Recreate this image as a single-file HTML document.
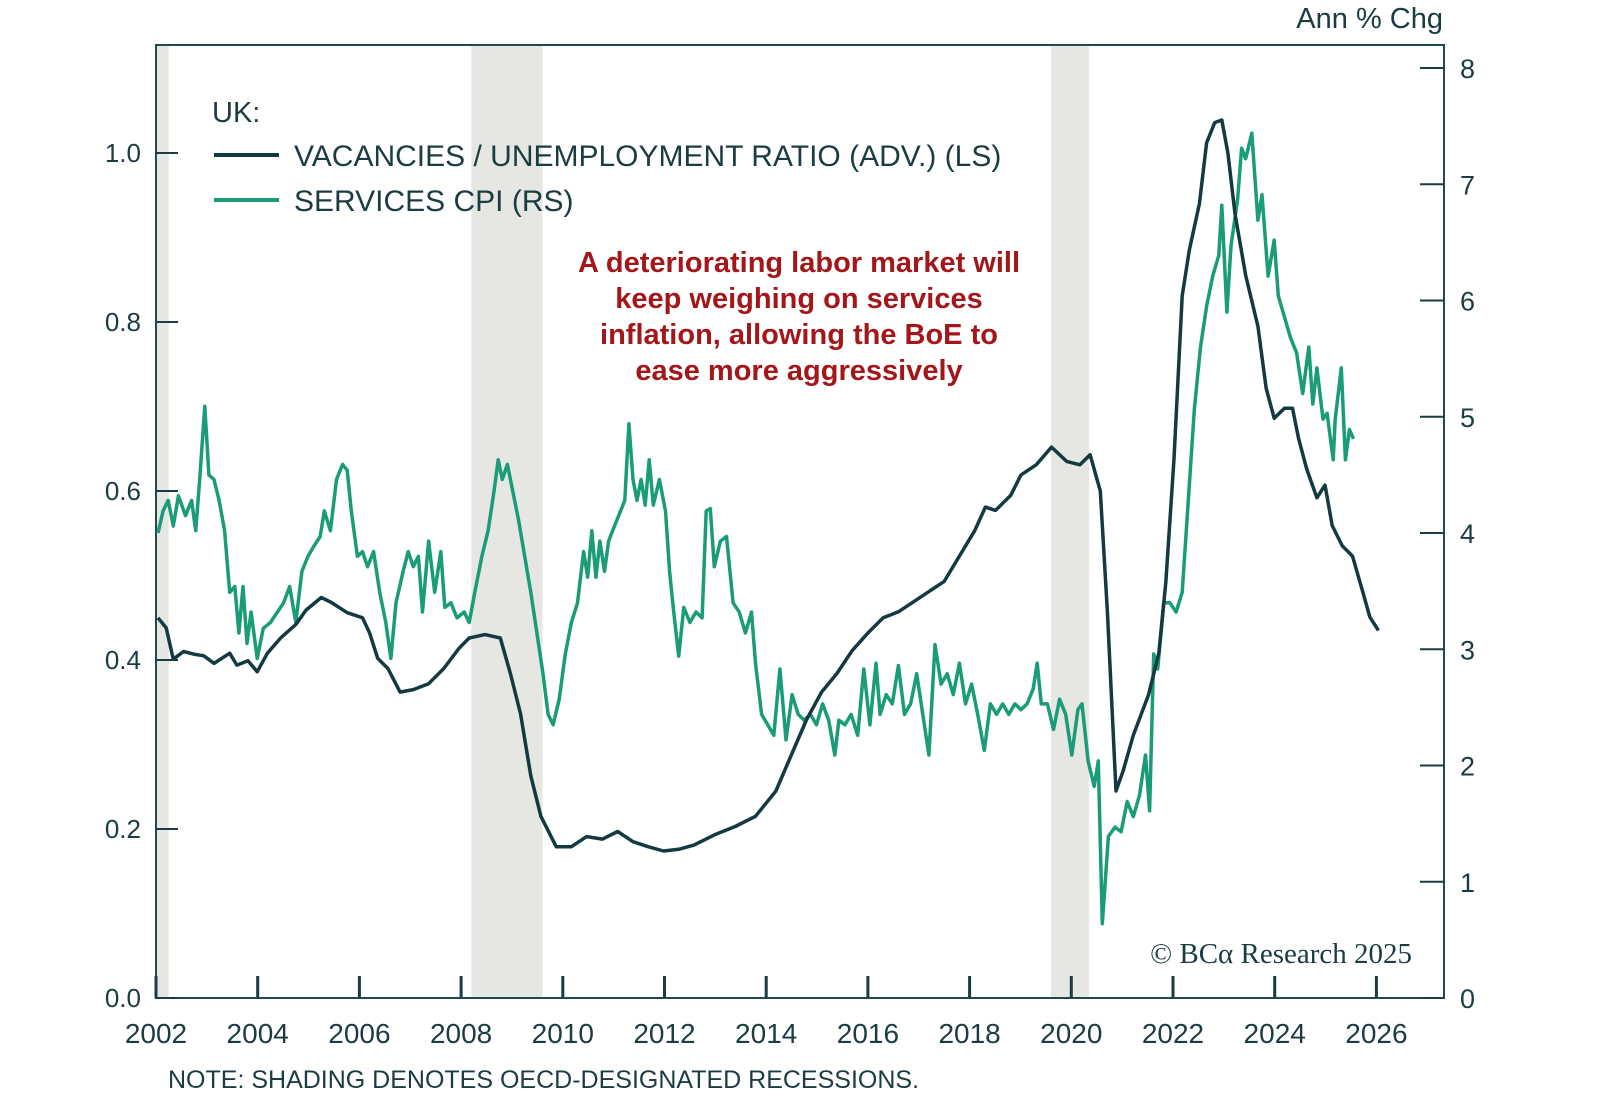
<!DOCTYPE html>
<html><head><meta charset="utf-8"><style>
html,body{margin:0;padding:0;background:#fff;}
svg{display:block;font-family:"Liberation Sans",sans-serif;}
</style></head><body>
<svg id="chart" width="1600" height="1107" viewBox="0 0 1600 1107">
<g id="shade"></g>
<rect x="156" y="45" width="1288" height="953" fill="none" stroke="#1f4a50" stroke-width="2"/>
<g id="axes"></g>
<g id="series"></g>
<text x="1443" y="28" text-anchor="end" font-size="29" fill="#1a3c42">Ann % Chg</text>
<text x="212" y="122" font-size="29" fill="#1a3c42">UK:</text>
<line x1="214" y1="155" x2="279" y2="155" stroke="#123a40" stroke-width="4"/>
<text x="294" y="166" font-size="30" fill="#1a3c42">VACANCIES / UNEMPLOYMENT RATIO (ADV.) (LS)</text>
<line x1="214" y1="200" x2="279" y2="200" stroke="#1a9c78" stroke-width="4"/>
<text x="294" y="211" font-size="30" fill="#1a3c42">SERVICES CPI (RS)</text>
<g font-size="29" font-weight="bold" fill="#a3161a" text-anchor="middle">
<text x="799" y="272">A deteriorating labor market will</text>
<text x="799" y="308">keep weighing on services</text>
<text x="799" y="344">inflation, allowing the BoE to</text>
<text x="799" y="380">ease more aggressively</text>
</g>
<text x="1412" y="963" text-anchor="end" font-family="Liberation Serif, serif" font-size="29" fill="#1a3c42">© BCα Research 2025</text>
<text x="168" y="1088" font-size="25" fill="#1a3c42">NOTE: SHADING DENOTES OECD-DESIGNATED RECESSIONS.</text>
</svg>
<script>
const vuYears=[2002.04,2002.20,2002.34,2002.54,2002.74,2002.94,2003.14,2003.45,2003.59,2003.81,2003.99,2004.19,2004.45,2004.75,2004.95,2005.25,2005.45,2005.76,2006.06,2006.20,2006.36,2006.56,2006.80,2007.06,2007.36,2007.66,2007.96,2008.16,2008.47,2008.77,2008.97,2009.17,2009.37,2009.57,2009.87,2010.17,2010.47,2010.78,2011.08,2011.38,2011.68,2011.98,2012.28,2012.58,2012.98,2013.39,2013.79,2014.19,2014.49,2014.79,2015.09,2015.39,2015.69,2016.00,2016.30,2016.60,2016.90,2017.20,2017.50,2017.80,2018.10,2018.31,2018.51,2018.81,2019.01,2019.31,2019.61,2019.91,2020.17,2020.37,2020.57,2020.71,2020.88,2021.02,2021.22,2021.52,2021.72,2021.86,2022.02,2022.18,2022.32,2022.52,2022.66,2022.82,2022.96,2023.08,2023.22,2023.43,2023.67,2023.83,2023.99,2024.19,2024.35,2024.47,2024.63,2024.83,2024.99,2025.13,2025.33,2025.53,2025.73,2025.87,2026.04];
const vuValues=[0.45,0.438,0.401,0.41,0.407,0.405,0.396,0.408,0.394,0.399,0.386,0.408,0.426,0.442,0.459,0.474,0.468,0.456,0.45,0.432,0.402,0.39,0.362,0.365,0.372,0.39,0.414,0.426,0.43,0.426,0.384,0.336,0.263,0.215,0.179,0.179,0.191,0.188,0.197,0.185,0.179,0.174,0.176,0.181,0.193,0.203,0.215,0.245,0.287,0.329,0.362,0.384,0.411,0.432,0.45,0.457,0.469,0.481,0.493,0.523,0.553,0.581,0.577,0.595,0.619,0.631,0.652,0.635,0.631,0.643,0.6,0.457,0.245,0.269,0.311,0.359,0.408,0.493,0.638,0.831,0.885,0.94,1.012,1.036,1.039,1.0,0.928,0.855,0.795,0.722,0.686,0.698,0.698,0.662,0.626,0.592,0.607,0.559,0.535,0.523,0.481,0.451,0.435];
const cpiYears=[2002.04,2002.14,2002.24,2002.34,2002.44,2002.58,2002.70,2002.78,2002.86,2002.96,2003.04,2003.14,2003.24,2003.35,2003.45,2003.55,2003.63,2003.71,2003.79,2003.87,2003.99,2004.11,2004.25,2004.39,2004.51,2004.63,2004.75,2004.87,2004.99,2005.11,2005.23,2005.31,2005.43,2005.55,2005.67,2005.76,2005.84,2005.96,2006.06,2006.16,2006.28,2006.40,2006.52,2006.62,2006.72,2006.86,2006.96,2007.06,2007.16,2007.24,2007.36,2007.48,2007.60,2007.68,2007.80,2007.92,2008.06,2008.16,2008.27,2008.41,2008.53,2008.65,2008.73,2008.81,2008.91,2009.01,2009.13,2009.25,2009.37,2009.49,2009.61,2009.71,2009.81,2009.93,2010.05,2010.17,2010.29,2010.41,2010.49,2010.57,2010.65,2010.73,2010.82,2010.90,2010.98,2011.10,2011.22,2011.30,2011.38,2011.46,2011.54,2011.62,2011.70,2011.78,2011.90,2012.02,2012.10,2012.18,2012.28,2012.38,2012.50,2012.62,2012.74,2012.82,2012.90,2012.98,2013.10,2013.22,2013.35,2013.47,2013.59,2013.71,2013.79,2013.91,2014.03,2014.15,2014.27,2014.39,2014.51,2014.63,2014.75,2014.87,2014.99,2015.11,2015.23,2015.35,2015.43,2015.55,2015.67,2015.80,2015.92,2016.04,2016.16,2016.24,2016.36,2016.48,2016.60,2016.72,2016.84,2016.96,2017.08,2017.20,2017.32,2017.44,2017.56,2017.68,2017.80,2017.92,2018.04,2018.16,2018.29,2018.41,2018.53,2018.65,2018.77,2018.89,2019.01,2019.13,2019.25,2019.33,2019.41,2019.53,2019.65,2019.77,2019.89,2020.01,2020.13,2020.21,2020.33,2020.45,2020.53,2020.61,2020.73,2020.86,2020.98,2021.10,2021.22,2021.34,2021.46,2021.54,2021.62,2021.70,2021.82,2021.94,2022.06,2022.18,2022.30,2022.42,2022.54,2022.66,2022.78,2022.90,2022.96,2023.06,2023.14,2023.27,2023.35,2023.43,2023.55,2023.67,2023.75,2023.87,2023.99,2024.07,2024.19,2024.31,2024.43,2024.55,2024.67,2024.75,2024.83,2024.95,2025.03,2025.15,2025.19,2025.31,2025.39,2025.47,2025.55];
const cpiValues=[4.0,4.19,4.28,4.06,4.32,4.15,4.28,4.02,4.46,5.09,4.5,4.46,4.28,4.02,3.49,3.54,3.14,3.54,3.05,3.32,2.92,3.18,3.23,3.32,3.4,3.54,3.23,3.67,3.8,3.89,3.97,4.19,4.02,4.46,4.59,4.54,4.19,3.8,3.84,3.71,3.84,3.49,3.23,2.92,3.4,3.67,3.84,3.71,3.8,3.32,3.93,3.49,3.84,3.36,3.4,3.27,3.32,3.23,3.49,3.8,4.02,4.37,4.63,4.46,4.59,4.37,4.11,3.8,3.49,3.14,2.79,2.44,2.35,2.57,2.96,3.23,3.4,3.84,3.62,4.02,3.62,3.93,3.67,3.93,4.02,4.15,4.28,4.94,4.46,4.28,4.46,4.24,4.63,4.24,4.46,4.19,3.67,3.32,2.94,3.36,3.23,3.32,3.27,4.19,4.21,3.71,3.93,3.97,3.4,3.32,3.14,3.32,2.88,2.44,2.35,2.26,2.83,2.22,2.61,2.44,2.39,2.44,2.35,2.53,2.39,2.09,2.39,2.35,2.44,2.26,2.83,2.35,2.88,2.44,2.61,2.53,2.86,2.44,2.53,2.79,2.44,2.09,3.04,2.7,2.79,2.61,2.88,2.53,2.7,2.44,2.13,2.53,2.44,2.53,2.44,2.53,2.48,2.53,2.66,2.88,2.53,2.53,2.31,2.57,2.44,2.09,2.48,2.53,2.04,1.82,2.04,0.64,1.39,1.47,1.43,1.69,1.56,1.74,2.09,1.61,2.96,2.83,3.4,3.4,3.32,3.49,4.28,5.07,5.6,5.95,6.21,6.39,6.82,5.9,6.47,6.87,7.31,7.22,7.44,6.69,6.91,6.21,6.52,6.04,5.86,5.68,5.55,5.2,5.6,5.11,5.42,4.98,5.03,4.63,4.98,5.42,4.63,4.89,4.81];
const recStarts=[2002.0,2008.2,2019.6];
const recEnds=[2002.25,2009.6,2020.35];
const xTicks=[2002,2004,2006,2008,2010,2012,2014,2016,2018,2020,2022,2024,2026];
const leftTicks=[0.0,0.2,0.4,0.6,0.8,1.0];
const rightTicks=[0,1,2,3,4,5,6,7,8];

const NS='http://www.w3.org/2000/svg';
const X=y=>156+(y-2002)*50.85;
const YL=v=>998-v*845;
const YR=v=>998-v*116.25;
function mk(tag,attrs,parent){const e=document.createElementNS(NS,tag);for(const k in attrs)e.setAttribute(k,attrs[k]);parent.appendChild(e);return e;}
const shade=document.getElementById('shade'),axes=document.getElementById('axes'),series=document.getElementById('series');
recStarts.forEach((s,i)=>{
  const r=mk('rect',{x:X(s),y:45,width:X(recEnds[i])-X(s),height:953,fill:'#e6e6e2'},shade);
  
  
});
const col='#1a3c42';
xTicks.forEach(t=>{
  const l=mk('line',{x1:X(t),x2:X(t),y1:998,y2:976,stroke:col,'stroke-width':3},axes);
  
  
  const tx=mk('text',{x:X(t),y:1043,'text-anchor':'middle','font-size':28,fill:col},axes);
  tx.textContent=t;
  
  
});
leftTicks.forEach(t=>{
  const l=mk('line',{x1:156,x2:178,y1:YL(t),y2:YL(t),stroke:col,'stroke-width':2},axes);
  
  
  const tx=mk('text',{x:141,y:YL(t)+9,'text-anchor':'end','font-size':26,fill:col},axes);
  tx.textContent=t.toFixed(1);
  
  
});
rightTicks.forEach(t=>{
  const l=mk('line',{x1:1420,x2:1444,y1:YR(t),y2:YR(t),stroke:col,'stroke-width':2},axes);
  
  
  const tx=mk('text',{x:1460,y:YR(t)+10,'font-size':27,fill:col},axes);
  tx.textContent=t;
  
  
});
const cpiPath=mk('path',{d:cpiYears.map((y,i)=>(i?'L':'M')+X(y).toFixed(1)+','+YR(cpiValues[i]).toFixed(1)).join(''),fill:'none',stroke:'#1a9c78','stroke-width':3.5,'stroke-linejoin':'round'},series);


const vuPath=mk('path',{d:vuYears.map((y,i)=>(i?'L':'M')+X(y).toFixed(1)+','+YL(vuValues[i]).toFixed(1)).join(''),fill:'none',stroke:'#123a40','stroke-width':3.5,'stroke-linejoin':'round'},series);


</script>
</body></html>
